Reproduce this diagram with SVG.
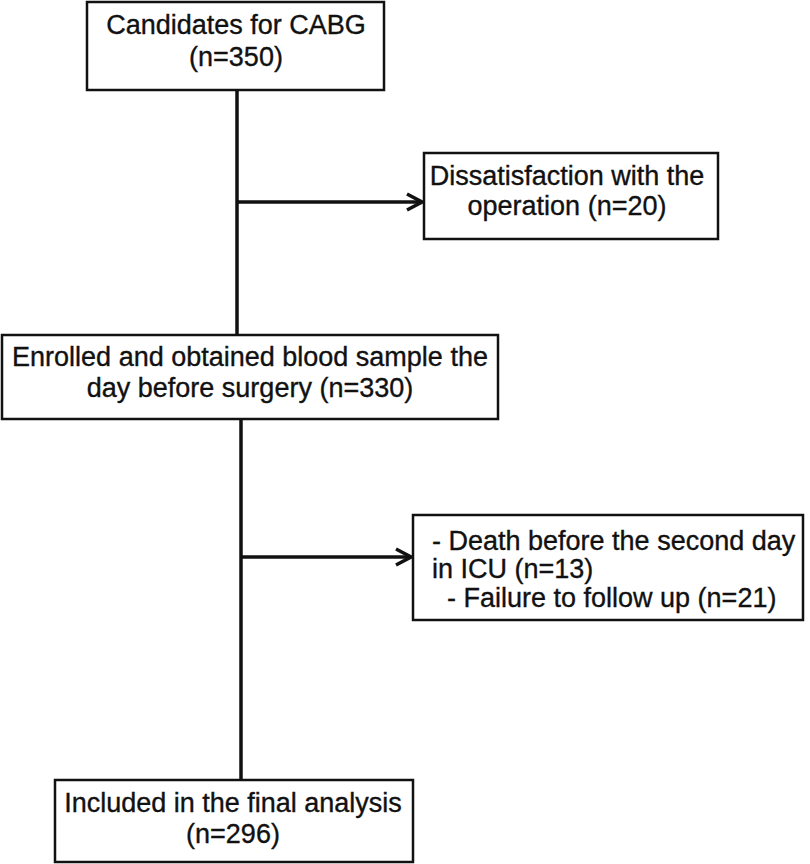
<svg xmlns="http://www.w3.org/2000/svg" width="810" height="864" viewBox="0 0 810 864">
<defs>
<style>
.box{fill:#fff;stroke:#111;stroke-width:2.5}
.t{font-family:"Liberation Sans",Arial,Helvetica,sans-serif;font-size:27px;fill:#111;stroke:#111;stroke-width:0.35}
.c{text-anchor:middle}
.ln{fill:none;stroke:#111;stroke-width:3.5}
</style>
<marker id="arr" viewBox="0 0 20 20" refX="18" refY="10" markerWidth="20" markerHeight="20" markerUnits="userSpaceOnUse" orient="auto">
<polyline points="3,2 18,10 3,18" fill="none" stroke="#111" stroke-width="3.5"/>
</marker>
</defs>
<rect width="810" height="864" fill="#fff"/>
<g id="connectors">
<line class="ln" x1="237" y1="90" x2="237" y2="335"/>
<line class="ln" x1="237" y1="202" x2="422" y2="202" marker-end="url(#arr)"/>
<line class="ln" x1="241" y1="419" x2="241" y2="780"/>
<line class="ln" x1="241" y1="557" x2="411" y2="557" marker-end="url(#arr)"/>
</g>
<g id="candidates">
<rect class="box" x="87" y="2" width="297" height="88"/>
<text class="t c" x="236" y="34">Candidates for CABG</text>
<text class="t c" x="236" y="66">(n=350)</text>
</g>
<g id="dissatisfaction">
<rect class="box" x="424" y="153" width="294" height="86"/>
<text class="t c" x="567" y="185">Dissatisfaction with the</text>
<text class="t c" x="567" y="215">operation (n=20)</text>
</g>
<g id="enrolled">
<rect class="box" x="2" y="335" width="496" height="84"/>
<text class="t c" x="250" y="366">Enrolled and obtained blood sample the</text>
<text class="t c" x="250" y="397">day before surgery (n=330)</text>
</g>
<g id="excluded">
<rect class="box" x="413" y="515" width="390" height="105"/>
<text class="t" x="432" y="550">- Death before the second day</text>
<text class="t" x="432" y="578">in ICU (n=13)</text>
<text class="t" x="447" y="607">- Failure to follow up (n=21)</text>
</g>
<g id="included">
<rect class="box" x="55" y="780" width="358" height="82"/>
<text class="t c" x="233" y="812">Included in the final analysis</text>
<text class="t c" x="233" y="843">(n=296)</text>
</g>
</svg>
